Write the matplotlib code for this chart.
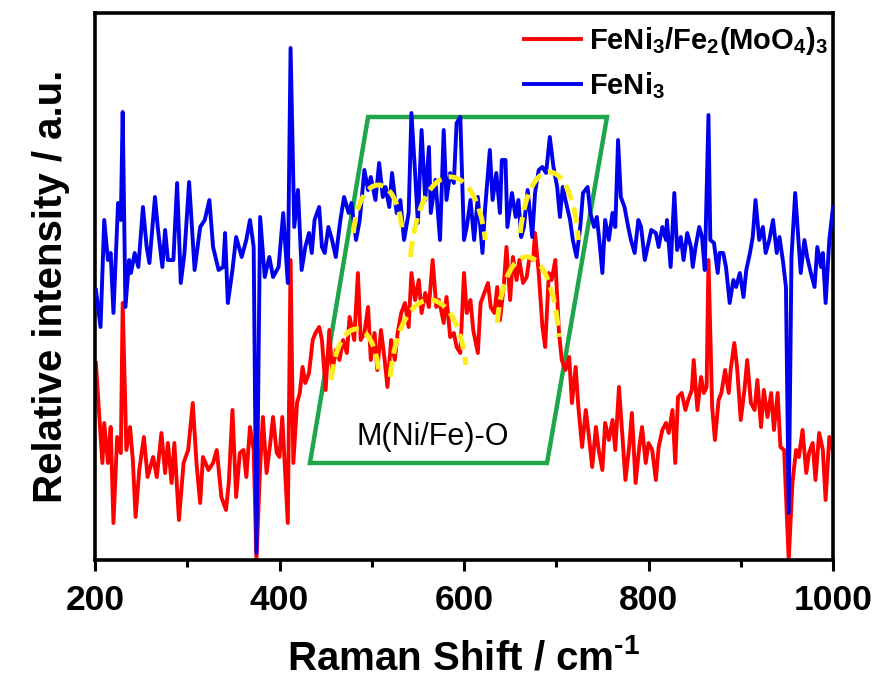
import matplotlib
matplotlib.use('Agg')
import matplotlib.pyplot as plt
from matplotlib.path import Path
from matplotlib.patches import PathPatch, Polygon

plt.rcParams['font.family'] = ['Liberation Sans', 'DejaVu Sans']
plt.rcParams['font.weight'] = 'bold'
plt.rcParams['axes.labelweight'] = 'bold'
plt.rcParams['mathtext.fontset'] = 'custom'
plt.rcParams['mathtext.rm'] = 'Liberation Sans:bold'
plt.rcParams['mathtext.it'] = 'Liberation Sans:bold'
plt.rcParams['mathtext.bf'] = 'Liberation Sans:bold'

# FeNi3 spectrum (Raman shift cm-1, intensity a.u.)
blue_x = [201, 206, 210, 214, 217, 220, 225, 228, 230, 233, 237, 239, 243, 247, 252, 256, 259, 265, 268, 273,
          276, 279, 285, 289, 293, 297, 302, 308, 314, 319, 324, 328, 334, 339, 341, 344, 349, 353, 359, 364,
          368, 372, 375, 379, 384, 389, 393, 399, 404, 409, 412, 416, 420, 424, 428, 432, 435, 438, 443, 446,
          449, 453, 457, 461, 466, 470, 475, 478, 483, 487, 492, 496, 499, 504, 508, 512, 515, 519, 522, 527,
          531, 535, 540, 543, 547, 550, 554, 558, 562, 564, 569, 574, 578, 581, 585, 589, 592, 596, 600, 603,
          607, 611, 615, 620, 623, 628, 631, 635, 639, 641, 645, 647, 652, 656, 659, 662, 665, 669, 674, 677,
          681, 685, 689, 693, 697, 701, 704, 707, 710, 715, 718, 722, 726, 729, 734, 737, 741, 744, 747, 750,
          753, 757, 761, 764, 767, 770, 774, 778, 781, 785, 789, 792, 796, 799, 803, 808, 811, 815, 819, 820,
          824, 828, 831, 835, 838, 842, 846, 848, 851, 855, 858, 861, 865, 867, 871, 875, 877, 881, 884, 888,
          892, 895, 899, 903, 906, 910, 913, 916, 920, 924, 927, 931, 935, 939, 942, 946, 949, 952, 955, 959,
          962, 965, 969, 972, 976, 980, 983, 987, 989, 992, 996, 1000]
blue_y = [270, 233, 340, 300, 307, 247, 357, 340, 448, 253, 300, 287, 307, 293, 353, 313, 297, 363, 333, 293,
          330, 300, 300, 377, 277, 307, 378, 290, 333, 340, 360, 313, 290, 293, 327, 257, 290, 323, 303, 320,
          340, 313, 7, 343, 283, 303, 283, 293, 347, 277, 512, 333, 370, 290, 313, 327, 307, 340, 353, 313,
          307, 333, 320, 303, 340, 363, 347, 357, 320, 340, 390, 370, 383, 360, 397, 363, 373, 353, 387, 347,
          360, 320, 347, 447, 387, 337, 430, 360, 413, 347, 380, 320, 430, 360, 387, 377, 437, 443, 320, 333,
          360, 320, 363, 307, 353, 410, 360, 387, 347, 400, 400, 333, 367, 343, 360, 323, 333, 370, 323, 367,
          390, 393, 387, 423, 393, 373, 343, 373, 360, 340, 320, 303, 333, 367, 373, 347, 333, 343, 317, 287,
          340, 320, 347, 333, 420, 363, 353, 333, 320, 307, 340, 333, 300, 313, 330, 327, 313, 333, 320, 340,
          293, 367, 310, 323, 300, 327, 313, 293, 313, 333, 323, 290, 445, 320, 317, 287, 307, 307, 293, 257,
          280, 273, 287, 263, 290, 307, 323, 360, 320, 333, 307, 320, 340, 307, 323, 297, 273, 47, 303, 367,
          327, 287, 320, 303, 287, 273, 313, 293, 307, 257, 320, 353]

# FeNi3/Fe2(MoO4)3 spectrum
red_x = [201, 204, 208, 210, 214, 217, 220, 224, 228, 230, 234, 238, 241, 244, 248, 253, 257, 263, 267, 272,
         276, 279, 283, 286, 291, 296, 301, 306, 310, 314, 317, 323, 328, 332, 337, 342, 345, 349, 353, 357,
         361, 364, 368, 372, 375, 379, 382, 386, 390, 393, 397, 400, 403, 409, 412, 415, 419, 422, 425, 428,
         432, 436, 439, 443, 446, 450, 454, 457, 461, 465, 469, 473, 476, 481, 485, 488, 492, 496, 499, 503,
         506, 510, 514, 517, 521, 525, 528, 532, 536, 540, 543, 547, 551, 554, 558, 562, 566, 570, 573, 578,
         581, 585, 589, 592, 596, 600, 603, 607, 610, 615, 618, 622, 626, 629, 633, 636, 639, 643, 646, 650,
         653, 657, 660, 664, 668, 671, 675, 677, 681, 685, 688, 692, 695, 699, 703, 706, 710, 714, 717, 721,
         724, 728, 732, 735, 739, 743, 746, 750, 753, 757, 761, 764, 768, 772, 775, 779, 782, 786, 790, 793,
         797, 800, 804, 808, 811, 815, 819, 822, 826, 829, 832, 836, 840, 843, 847, 849, 853, 857, 860, 863,
         865, 869, 872, 876, 879, 883, 887, 889, 893, 896, 900, 904, 907, 911, 915, 918, 922, 925, 929, 933,
         936, 940, 943, 947, 952, 956, 960, 963, 967, 971, 974, 978, 981, 985, 989, 992, 996, 1000]
red_y = [197, 153, 97, 137, 97, 133, 37, 123, 107, 257, 110, 133, 100, 43, 90, 123, 83, 103, 83, 127,
         87, 117, 77, 117, 40, 97, 110, 157, 97, 57, 103, 90, 97, 110, 63, 50, 77, 150, 63, 107,
         110, 83, 133, 110, 0, 93, 143, 87, 117, 143, 107, 103, 143, 37, 300, 97, 157, 167, 193, 177,
         187, 220, 227, 233, 220, 170, 230, 187, 210, 200, 220, 207, 243, 220, 287, 220, 227, 253, 200, 227,
         190, 230, 200, 173, 220, 200, 227, 247, 257, 233, 287, 260, 280, 247, 267, 253, 300, 253, 260, 237,
         263, 223, 227, 213, 207, 287, 247, 260, 230, 207, 257, 267, 277, 253, 247, 273, 240, 273, 313, 260,
         303, 280, 300, 277, 283, 303, 300, 327, 287, 233, 213, 287, 280, 300, 227, 200, 190, 203, 157, 193,
         153, 113, 150, 127, 93, 133, 110, 90, 137, 120, 140, 110, 173, 120, 80, 113, 147, 77, 113, 133,
         97, 117, 110, 80, 113, 130, 137, 127, 150, 97, 163, 167, 150, 160, 170, 200, 150, 183, 167, 173,
         300, 153, 120, 160, 167, 190, 167, 190, 217, 193, 140, 170, 200, 157, 150, 180, 133, 170, 143, 167,
         130, 167, 113, 110, 0, 77, 110, 103, 130, 87, 107, 117, 80, 127, 110, 60, 123, 110]

# green box corners and yellow guide arcs (start, peak, end)
box_x = [496, 755, 690, 433]
box_y = [443, 443, 97, 97]
arcs = [
    (480, 327, 507, 375, 533, 330),
    (542, 303, 583, 383, 623, 320),
    (661, 327, 696, 388, 724, 320),
    (456, 180, 486, 231, 508, 185),
    (520, 183, 562, 260, 602, 195),
    (636, 237, 670, 303, 703, 223),
]

fig = plt.figure(figsize=(8.73, 6.85), dpi=100)
ax = fig.add_axes([95 / 873, 125 / 685, 738 / 873, 547 / 685])

ax.add_patch(Polygon(list(zip(box_x, box_y)), closed=True, fill=False,
                     edgecolor='#1fa64b', lw=3.2, zorder=1))
ax.plot(red_x, red_y, color='#ff0000', lw=2.8, label=r'FeNi$_3$/Fe$_2$(MoO$_4$)$_3$', zorder=2)
ax.plot(blue_x, blue_y, color='#0000ee', lw=2.8, label=r'FeNi$_3$', zorder=3)

for x0, y0, xp, yp, x1, y1 in arcs:
    yc = (4 * yp - (y0 + y1) / 2) / 3
    verts = [(x0, y0), (x0 + 0.25 * (xp - x0), yc), (x1 - 0.25 * (x1 - xp), yc), (x1, y1)]
    path = Path(verts, [Path.MOVETO, Path.CURVE4, Path.CURVE4, Path.CURVE4])
    ax.add_patch(PathPatch(path, fill=False, edgecolor='#fbee1c', lw=3.6,
                           linestyle=(0, (3.2, 1.5)), zorder=4))

ax.text(566, 123, 'M(Ni/Fe)-O', fontsize=22, fontweight='normal', ha='center', va='center', zorder=5)

ax.set_xlim(200, 1000)
ax.set_ylim(0, 547)
ax.set_xticks([200, 400, 600, 800, 1000])
ax.set_xticks([300, 500, 700, 900], minor=True)
ax.set_yticks([])
ax.tick_params(axis='x', which='major', direction='out', length=8, width=2.2, labelsize=25.5, pad=9)
ax.tick_params(axis='x', which='minor', direction='out', length=5, width=2.2)
for s in ax.spines.values():
    s.set_linewidth(2.6)

ax.set_xlabel('Raman Shift / cm$^{\u2010 1}$', fontsize=29, labelpad=16)
ax.set_ylabel('Relative intensity / a.u.', fontsize=29, labelpad=18)

ax.legend(loc='upper right', bbox_to_anchor=(1.018, 1.01), frameon=False, fontsize=21,
          handlelength=1.95, handletextpad=0.3, labelspacing=0.45, borderaxespad=0.2)

fig.savefig('out.png', dpi=100)
